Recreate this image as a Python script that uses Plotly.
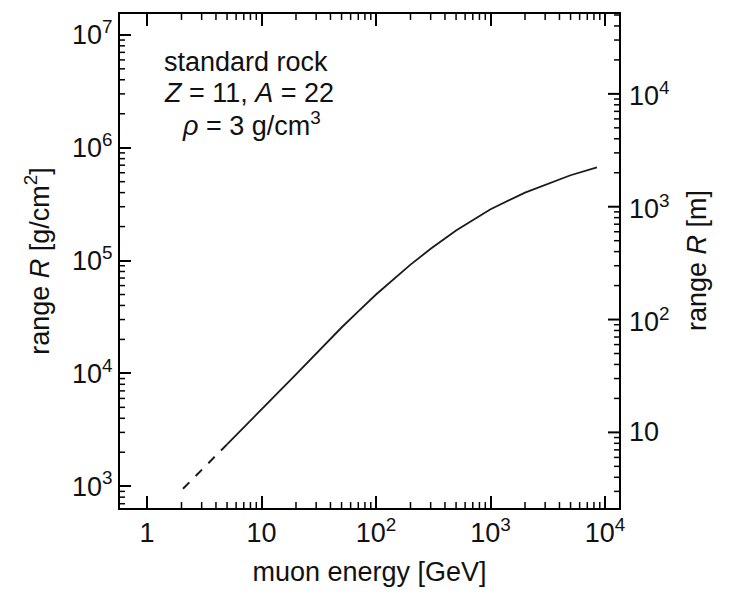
import plotly.graph_objects as go
import math

# ---- data ----
energy_dashed = [2.06, 3.0, 5.0]                 # GeV
range_dashed = [950, 1400, 2350]                 # g/cm^2
energy_solid = [5, 7, 10, 20, 30, 50, 70, 100, 200, 300, 500, 700,
                1000, 2000, 3000, 5000, 8500]    # GeV
range_solid = [2350, 3350, 4800, 9800, 15000, 25500, 35500, 50000, 92000,
               127000, 185000, 230000, 285000, 400000, 470000, 570000, 670000]
density = 3.0                                    # g/cm^3 -> R[m] = R[g/cm2] / (100*rho)

x_tickvals = [1, 10, 100, 1000, 10000]
x_ticktext = ["1", "10", "10<sup>2</sup>", "10<sup>3</sup>", "10<sup>4</sup>"]
y_tickvals = [1e3, 1e4, 1e5, 1e6, 1e7]
y_ticktext = ["10<sup>3</sup>", "10<sup>4</sup>", "10<sup>5</sup>", "10<sup>6</sup>", "10<sup>7</sup>"]
y2_tickvals = [10, 100, 1000, 10000]
y2_ticktext = ["10", "10<sup>2</sup>", "10<sup>3</sup>", "10<sup>4</sup>"]

FONT = "Liberation Sans, Arial, sans-serif"
INK = "black"
FS = 27

def minors(lo, hi):
    return [m * 10 ** k for k in range(lo, hi) for m in range(2, 10)]

x_range = [-0.236, 4.122]
y_range = [2.807, 7.185]
to_m = 100 * density
shift = math.log10(to_m)
y2_range = [y_range[0] - shift, y_range[1] - shift]

W, H = 738, 594
ML, MR, MT, MB = 120, 119, 13, 83
PW, PH = W - ML - MR, H - MT - MB

fig = go.Figure()
fig.add_trace(go.Scatter(x=energy_dashed, y=range_dashed, mode="lines",
                         line=dict(color="#1a1a1a", width=2, dash="dash"),
                         showlegend=False))
fig.add_trace(go.Scatter(x=energy_solid, y=range_solid, mode="lines",
                         line=dict(color="#1a1a1a", width=1.8),
                         showlegend=False))

def frac(v, rng):
    return (math.log10(v) - rng[0]) / (rng[1] - rng[0])

# minor ticks (all sides) and the right-hand metre scale ticks as frame shapes
shapes = []
def seg(x0, y0, x1, y1, w):
    shapes.append(dict(type="line", xref="paper", yref="paper", x0=x0, y0=y0,
                       x1=x1, y1=y1, line=dict(color=INK, width=w)))

for v in minors(0, 4):
    f = frac(v, x_range)
    if 0 <= f <= 1:
        seg(f, 0, f, 6 / PH, 1.5)
        seg(f, 1, f, 1 - 6 / PH, 1.5)
for v in minors(2, 7):
    f = frac(v, y_range)
    if 0 <= f <= 1:
        seg(0, f, 5 / PW, f, 1.5)
for v in y2_tickvals:
    f = frac(v, y2_range)
    if 0 <= f <= 1:
        seg(1, f, 1 - 11 / PW, f, 2)
for v in minors(0, 5):
    f = frac(v, y2_range)
    if 0 <= f <= 1:
        seg(1, f, 1 - 5 / PW, f, 1.5)

tfont = dict(family=FONT, size=FS, color="#111")

# right-hand metre scale labels
annotations = []
for v, t in zip(y2_tickvals, y2_ticktext):
    f = frac(v, y2_range)
    annotations.append(dict(xref="paper", yref="paper", x=1, y=f, xshift=8,
                            xanchor="left", yanchor="middle", showarrow=False,
                            text=t, font=tfont))
annotations.append(dict(xref="paper", yref="paper", x=1, y=0.5, xshift=78,
                        xanchor="center", yanchor="middle", textangle=-90,
                        showarrow=False, text="range <i>R</i> [m]", font=tfont))
annotations += [
    dict(xref="paper", yref="paper", x=0.252, y=1 - (61 - MT) / PH,
         xanchor="center", yanchor="middle", showarrow=False,
         text="standard rock", font=tfont),
    dict(xref="paper", yref="paper", x=0.258, y=1 - (93 - MT) / PH,
         xanchor="center", yanchor="middle", showarrow=False,
         text="<i>Z</i> = 11, <i>A</i> = 22", font=tfont),
    dict(xref="paper", yref="paper", x=0.264, y=1 - (124 - MT) / PH,
         xanchor="center", yanchor="middle", showarrow=False,
         text="<i>ρ</i> = 3 g/cm<sup>3</sup>", font=tfont),
]

fig.update_layout(
    width=W, height=H,
    margin=dict(l=ML, r=MR, t=MT, b=MB),
    paper_bgcolor="white", plot_bgcolor="white",
    font=tfont,
    xaxis=dict(type="log", range=x_range, tickmode="array", tickvals=x_tickvals,
               ticktext=x_ticktext, ticks="inside", ticklen=12, tickwidth=2,
               tickcolor=INK, showline=True, linecolor=INK, linewidth=2,
               mirror="ticks", showgrid=False, zeroline=False, tickfont=tfont,
               title=dict(text="muon energy [GeV]", font=tfont)),
    yaxis=dict(type="log", range=y_range, tickmode="array", tickvals=y_tickvals,
               ticktext=y_ticktext, ticks="inside", ticklen=11, tickwidth=2,
               tickcolor=INK, showline=True, linecolor=INK, linewidth=2,
               mirror=True, showgrid=False, zeroline=False, tickfont=tfont,
               title=dict(text="range <i>R</i> [g/cm<sup>2</sup>]", font=tfont)),
    shapes=shapes,
    annotations=annotations,
)

fig.write_html("out.html")
